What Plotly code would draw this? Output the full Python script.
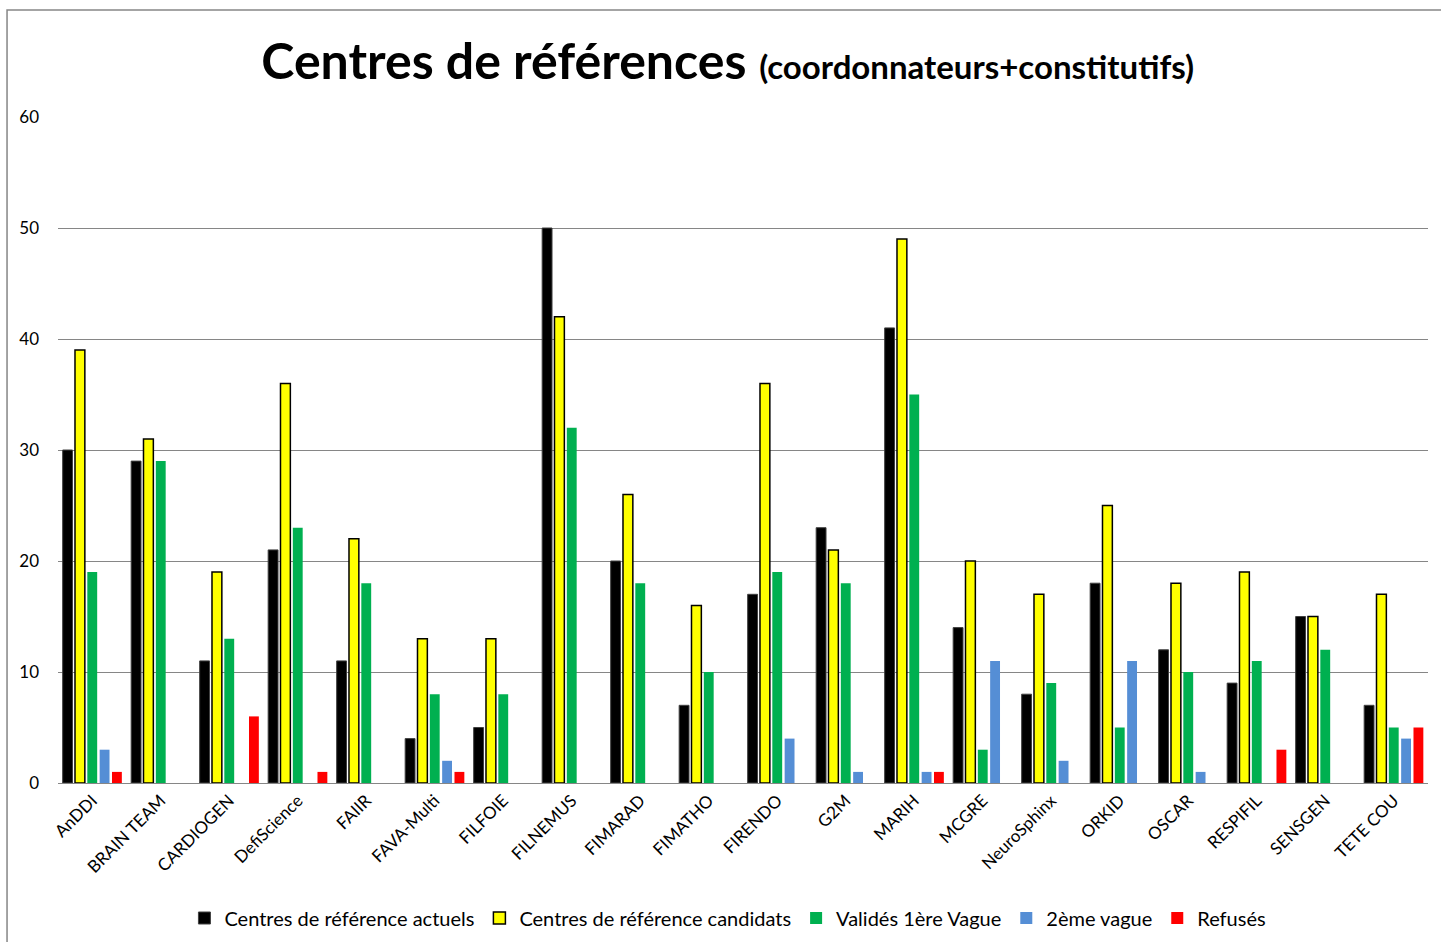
import plotly.graph_objects as go

categories = ["AnDDI", "BRAIN TEAM", "CARDIOGEN", "DefiScience", "FAIIR", "FAVA-Multi",
              "FILFOIE", "FILNEMUS", "FIMARAD", "FIMATHO", "FIRENDO", "G2M", "MARIH",
              "MCGRE", "NeuroSphinx", "ORKID", "OSCAR", "RESPIFIL", "SENSGEN", "TETE COU"]

actuels   = [30, 29, 11, 21, 11, 4, 5, 50, 20, 7, 17, 23, 41, 14, 8, 18, 12, 9, 15, 7]
candidats = [39, 31, 19, 36, 22, 13, 13, 42, 26, 16, 36, 21, 49, 20, 17, 25, 18, 19, 15, 17]
valides1  = [19, 29, 13, 23, 18, 8, 8, 32, 18, 10, 19, 18, 35, 3, 9, 5, 10, 11, 12, 5]
vague2    = [3, 0, 0, 0, 0, 2, 0, 0, 0, 0, 4, 1, 1, 11, 2, 11, 1, 0, 0, 4]
refuses   = [1, 0, 6, 1, 0, 1, 0, 0, 0, 0, 0, 0, 1, 0, 0, 0, 0, 3, 0, 5]

series = [
    ("Centres de référence actuels", actuels, "#000000", "#404040", 1),
    ("Centres de référence candidats", candidats, "#FFFF00", "#000000", 1.5),
    ("Validés 1ère Vague", valides1, "#00B050", "#00B050", 0),
    ("2ème vague", vague2, "#558ED5", "#558ED5", 0),
    ("Refusés", refuses, "#FF0000", "#FF0000", 0),
]

fig = go.Figure()
for name, vals, color, lcolor, lw in series:
    fig.add_trace(go.Bar(
        x=categories, y=vals, name=name,
        marker=dict(color=color, line=dict(color=lcolor, width=lw)),
    ))

FONT = "Lato, 'Open Sans', sans-serif"

fig.update_layout(
    width=1441, height=942,
    barmode="group", bargap=0.1, bargroupgap=0.2,
    plot_bgcolor="white", paper_bgcolor="white",
    margin=dict(l=58, r=13, t=117, b=159, autoexpand=False),
    font=dict(family=FONT, color="black"),
    title=dict(
        text="<b>Centres de références</b> <b><span style='font-size:33px'>(coordonnateurs+constitutifs)</span></b>",
        x=0.505, xanchor="center", y=0.935, yanchor="middle",
        font=dict(size=50, family=FONT, color="black"),
    ),
    xaxis=dict(
        tickangle=-45, tickfont=dict(size=17, family=FONT),
        showgrid=False, showline=True, linecolor="#868686", linewidth=1,
        ticks="", ticklen=0, automargin=False,
    ),
    yaxis=dict(
        range=[0, 60], dtick=10, tickfont=dict(size=17, family=FONT),
        showgrid=True, gridcolor="#868686", gridwidth=1,
        zeroline=False, ticks="", ticklabelstandoff=18, automargin=False,
    ),
    legend=dict(
        orientation="h", x=0.489, xanchor="center",
        yref="container", y=(942 - 918) / 942, yanchor="middle",
        font=dict(size=20, family=FONT), itemwidth=30, traceorder="normal",
    ),
    shapes=[dict(type="rect", xref="paper", yref="paper",
                 x0=-0.0372, x1=1.05, y0=-0.35, y1=1.1607,
                 line=dict(color="#868686", width=1.5), fillcolor="rgba(0,0,0,0)")],
)

fig.write_html("out.html", post_script="document.body.style.margin='0';",
               config={"displayModeBar": False})
